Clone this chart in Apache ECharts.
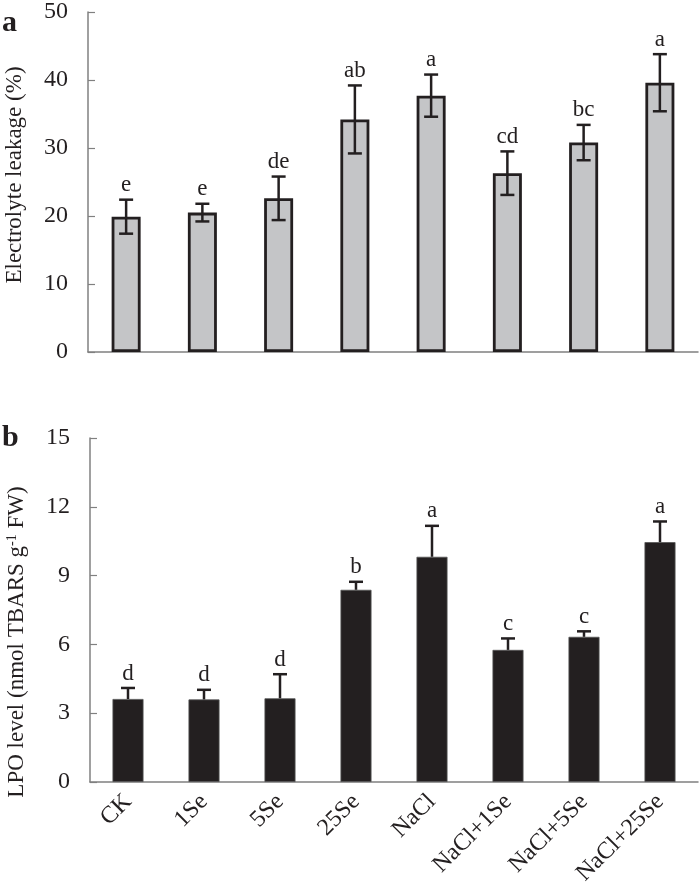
<!DOCTYPE html>
<html><head><meta charset="utf-8">
<script src="https://cdn.jsdelivr.net/npm/echarts@6/dist/echarts.min.js"></script>
<style>html,body{margin:0;padding:0;background:#fff}#c{width:700px;height:884px}</style>
</head><body><div id="c"></div>
<script>
const categories = ['CK', '1Se', '5Se', '25Se', 'NaCl', 'NaCl+1Se', 'NaCl+5Se', 'NaCl+25Se'];
const leakage = [19.9, 20.5, 22.6, 34.2, 37.7, 26.3, 30.8, 39.6];
const leakageErr = [2.5, 1.3, 3.2, 5.0, 3.1, 3.2, 2.6, 4.2];
const leakageLetters = ['e', 'e', 'de', 'ab', 'a', 'cd', 'bc', 'a'];
const lpo = [3.62, 3.6, 3.65, 8.38, 9.82, 5.76, 6.33, 10.46];
const lpoErr = [0.48, 0.42, 1.05, 0.35, 1.35, 0.5, 0.24, 0.9];
const lpoLetters = ['d', 'd', 'd', 'b', 'a', 'c', 'c', 'a'];
const yTicksA = [0, 10, 20, 30, 40, 50];
const yTicksB = [0, 3, 6, 9, 12, 15];

const FONT = '"Liberation Serif", "Times New Roman", serif';
const INK = '#231f20';
const AXIS = '#808080';

function errRender(letters, showLower) {
  return function (params, api) {
    const i = api.value(0), v = api.value(1), e = api.value(2);
    const top = api.coord([i, v + e]);
    const bot = api.coord([i, showLower ? v - e : v]);
    const half = 7;
    const st = { stroke: INK, lineWidth: 2.5 };
    const ch = [
      { type: 'line', shape: { x1: top[0], y1: top[1], x2: bot[0], y2: bot[1] }, style: st },
      { type: 'line', shape: { x1: top[0] - half, y1: top[1], x2: top[0] + half, y2: top[1] }, style: st }
    ];
    if (showLower) ch.push({ type: 'line', shape: { x1: bot[0] - half, y1: bot[1], x2: bot[0] + half, y2: bot[1] }, style: st });
    ch.push({ type: 'text', x: top[0], y: top[1] - 3, style: { text: letters[params.dataIndex], fill: INK, font: '23px ' + FONT, align: 'center', verticalAlign: 'bottom', textAlign: 'center', textVerticalAlign: 'bottom' } });
    return { type: 'group', children: ch };
  };
}

const xBase = (gi, showLabels) => ({
  type: 'category', gridIndex: gi, data: categories,
  axisLine: { lineStyle: { color: AXIS, width: 1.5 } },
  axisTick: { inside: true, length: 5, lineStyle: { color: AXIS, width: 1.2 } },
  axisLabel: showLabels ? { show: true, interval: 0, rotate: 45, fontSize: 24, fontFamily: FONT, color: INK, margin: 16 } : { show: false }
});
const yBase = (gi, ticks, name, pad, rich) => ({
  type: 'value', gridIndex: gi, min: ticks[0], max: ticks[ticks.length - 1], interval: ticks[1] - ticks[0],
  axisLine: { show: true, lineStyle: { color: AXIS, width: 1.5 } },
  axisTick: { show: true, inside: true, length: 7, lineStyle: { color: AXIS, width: 1.2 } },
  splitLine: { show: false },
  axisLabel: { fontSize: 24, fontFamily: FONT, color: INK, margin: 20 },
  name: name, nameLocation: 'middle', nameGap: 62,
  nameTextStyle: { fontSize: 23, fontFamily: FONT, color: INK, padding: pad, rich: rich }
});

const chart = echarts.init(document.getElementById('c'), null, { renderer: 'canvas' });
chart.setOption({
  animation: false,
  backgroundColor: '#fff',
  grid: [
    { left: 88, right: 2, top: 12, height: 340, outerBoundsMode: 'none', containLabel: false },
    { left: 90, right: 2, top: 438, height: 344, outerBoundsMode: 'none', containLabel: false }
  ],
  xAxis: [xBase(0, false), xBase(1, true)],
  yAxis: [
    yBase(0, yTicksA, 'Electrolyte leakage (%)', [0, 0, 0, 14], undefined),
    yBase(1, yTicksB, '{t|LPO level (nmol TBARS g}{s|-1}{t| FW)}', [0, 64, 0, 0], {
      t: { fontSize: 23, fontFamily: FONT, color: INK },
      s: { fontSize: 14, fontFamily: FONT, color: INK, verticalAlign: 'top' }
    })
  ],
  graphic: [
    { type: 'text', left: 2, top: 8, style: { text: 'a', font: 'bold 30px ' + FONT, fill: INK } },
    { type: 'text', left: 2, top: 423, style: { text: 'b', font: 'bold 30px ' + FONT, fill: INK } }
  ],
  series: [
    { type: 'bar', xAxisIndex: 0, yAxisIndex: 0, data: leakage, barWidth: 29,
      itemStyle: { color: '#c4c5c7', borderColor: INK, borderWidth: 2.8 } },
    { type: 'custom', xAxisIndex: 0, yAxisIndex: 0, renderItem: errRender(leakageLetters, true),
      data: leakage.map((v, i) => [i, v, leakageErr[i]]), z: 5 },
    { type: 'bar', xAxisIndex: 1, yAxisIndex: 1, data: lpo, barWidth: 31,
      itemStyle: { color: INK, borderColor: '#555', borderWidth: 0.8 } },
    { type: 'custom', xAxisIndex: 1, yAxisIndex: 1, renderItem: errRender(lpoLetters, false),
      data: lpo.map((v, i) => [i, v, lpoErr[i]]), z: 5 }
  ]
});
</script></body></html>
